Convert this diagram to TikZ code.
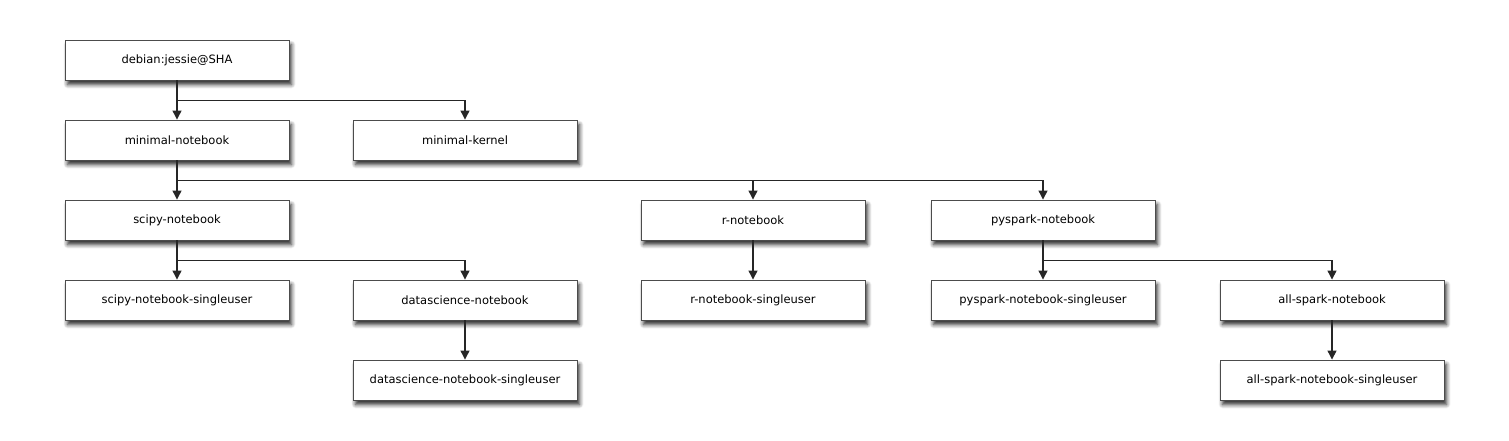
\documentclass[tikz,border=0pt]{standalone}
\usepackage{fontspec}
\setmainfont{DejaVu Sans}
\usetikzlibrary{arrows.meta,shadows.blur}

\tikzset{
  image/.style={draw=black!70, line width=0.9pt, fill=white, minimum width=224pt,
    minimum height=40pt, inner sep=0pt, font=\fontsize{11.5}{13}\selectfont,
    blur shadow={shadow xshift=2.5pt, shadow yshift=-4.5pt, shadow blur steps=6,
      shadow blur radius=4pt, shadow opacity=85}},
  builds/.style={line width=1.2pt, black!85, -{Triangle[length=9pt,width=9pt]}}
}

\begin{document}
\begin{tikzpicture}[x=1pt,y=-1pt]
		\useasboundingbox (0,0) rectangle (1509,440);

		\node[image] (debian) at (177,60) {debian:jessie@SHA};
		\node[image] (minnb) at (177,140) {minimal-notebook};
		\node[image] (minkernel) at (465,140) {minimal-kernel};
		\node[image] (scipy) at (177,220) {scipy-notebook};
		\node[image] (rnb) at (753,220) {r-notebook};
		\node[image] (pyspark) at (1043,220) {pyspark-notebook};
		\node[image] (scipysu) at (177,300) {scipy-notebook-singleuser};
		\node[image] (datasci) at (465,300) {datascience-notebook};
		\node[image] (rsu) at (753,300) {r-notebook-singleuser};
		\node[image] (pysparksu) at (1043,300) {pyspark-notebook-singleuser};
		\node[image] (allspark) at (1332,300) {all-spark-notebook};
		\node[image] (datascisu) at (465,380) {datascience-notebook-singleuser};
		\node[image] (allsparksu) at (1332,380) {all-spark-notebook-singleuser};

		\draw[builds] (debian) -- (minnb);
		\draw[builds] (debian.south) -- ++(0,20) -| (minkernel.north);

		\draw[builds] (minnb) -- (scipy);
		\draw[builds] (minnb.south) -- ++(0,20) -| (rnb.north);
		\draw[builds] (minnb.south) -- ++(0,20) -| (pyspark.north);

		\draw[builds] (scipy) -- (scipysu);
		\draw[builds] (scipy.south) -- ++(0,20) -| (datasci.north);
		\draw[builds] (rnb) -- (rsu);
		\draw[builds] (pyspark) -- (pysparksu);
		\draw[builds] (pyspark.south) -- ++(0,20) -| (allspark.north);

		\draw[builds] (datasci) -- (datascisu);
		\draw[builds] (allspark) -- (allsparksu);
	\end{tikzpicture}
\end{document}
